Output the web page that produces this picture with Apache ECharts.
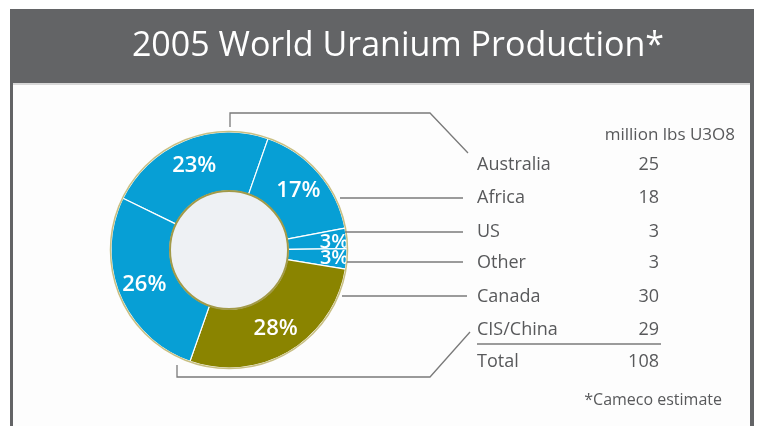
<!DOCTYPE html>
<html>
<head>
<meta charset="utf-8">
<script src="https://cdn.jsdelivr.net/npm/echarts@6/dist/echarts.min.js"></script>
<style>
  html, body { margin: 0; padding: 0; background: #fff; }
  #chart { width: 758px; height: 426px; }
</style>
</head>
<body>
<div id="chart"></div>
<script>
// data
const regions = ['Australia', 'Africa', 'US', 'Other', 'Canada', 'CIS/China'];
const production = [25, 18, 3, 3, 30, 29];
const shareLabels = ['23%', '17%', '3%', '3%', '28%', '26%'];
const totalLabel = 'Total';
const totalValue = 108;

const blue = '#079fd5';
const olive = '#8a8400';
const sliceColors = [blue, blue, blue, blue, olive, blue];
const textGrey = '#58595b';
const lineGrey = '#7a7a7a';
const font = '"Open Sans", sans-serif';

const cx = 229, cy = 250, rIn = 59, rOut = 118;
const rowY = [165, 198, 232, 263, 297, 330];
const nameX = 477, valueX = 659;

const pieData = regions.map((name, i) => {
  const item = {
    name: name,
    value: production[i],
    itemStyle: { color: sliceColors[i] }
  };
  if (shareLabels[i] === '3%') {
    item.label = { offset: [14, 1], fontSize: 20 };
  }
  return item;
});

// table text
const tableTexts = [];
regions.forEach((name, i) => {
  tableTexts.push({
    type: 'text', z: 20,
    style: { text: name, x: nameX, y: rowY[i], fill: textGrey, font: '18px ' + font, textVerticalAlign: 'middle' }
  });
  tableTexts.push({
    type: 'text', z: 20,
    style: { text: String(production[i]), x: valueX, y: rowY[i], fill: textGrey, font: '18px ' + font, textAlign: 'right', textVerticalAlign: 'middle' }
  });
});
tableTexts.push({
  type: 'text', z: 20,
  style: { text: totalLabel, x: nameX, y: 362, fill: textGrey, font: '18px ' + font, textVerticalAlign: 'middle' }
});
tableTexts.push({
  type: 'text', z: 20,
  style: { text: String(totalValue), x: valueX, y: 362, fill: textGrey, font: '18px ' + font, textAlign: 'right', textVerticalAlign: 'middle' }
});

// leader lines from slices to the table
const leaders = [
  [[230, 127], [230, 113], [430, 113], [468, 153]],
  [[340, 198], [463, 198]],
  [[345, 232], [463, 232]],
  [[347, 262], [463, 262]],
  [[342, 296], [467, 296]],
  [[177, 365], [177, 377], [430, 377], [470, 332]]
];
const leaderEls = leaders.map(pts => ({
  type: 'polyline', z: 15, silent: true,
  shape: { points: pts },
  style: { stroke: lineGrey, lineWidth: 1.3, fill: null }
}));

const chart = echarts.init(document.getElementById('chart'));
chart.setOption({
  backgroundColor: '#ffffff',
  animation: false,
  graphic: [
    // frame
    { type: 'rect', z: 0, shape: { x: 10, y: 9, width: 744, height: 420 }, style: { fill: '#636466' } },
    { type: 'rect', z: 1, shape: { x: 13, y: 83, width: 737, height: 345 }, style: { fill: '#fdfdfd' } },
    { type: 'rect', z: 1, shape: { x: 13, y: 83, width: 737, height: 2 }, style: { fill: '#d8d8d8' } },
    {
      type: 'text', z: 5,
      style: {
        text: '2005 World Uranium Production*', x: 398, y: 46,
        fill: '#ffffff', font: '34px ' + font, textAlign: 'center', textVerticalAlign: 'middle'
      }
    },
    // ring outline and hole
    {
      type: 'circle', z: 10, silent: true,
      shape: { cx: cx, cy: cy, r: rOut + 0.5 },
      style: { fill: null, stroke: '#c8bf83', lineWidth: 1.5 }
    },
    {
      type: 'circle', z: 10, silent: true,
      shape: { cx: cx, cy: cy, r: rIn },
      style: { fill: '#eef1f4', stroke: '#a29a48', lineWidth: 2 }
    },
    {
      type: 'text', z: 20,
      style: { text: 'million lbs U3O8', x: 735, y: 135, fill: textGrey, font: '17px ' + font, textAlign: 'right', textVerticalAlign: 'middle' }
    },
    {
      type: 'line', z: 15,
      shape: { x1: nameX, y1: 344, x2: 661, y2: 344 },
      style: { stroke: lineGrey, lineWidth: 1.5 }
    },
    {
      type: 'text', z: 20,
      style: { text: '*Cameco estimate', x: 722, y: 400, fill: textGrey, font: '16px ' + font, textAlign: 'right', textVerticalAlign: 'middle' }
    }
  ].concat(leaderEls, tableTexts),
  series: [
    {
      type: 'pie',
      z: 5,
      center: [cx, cy],
      radius: [rIn, rOut],
      startAngle: 154,
      clockwise: true,
      avoidLabelOverlap: false,
      silent: true,
      itemStyle: { borderColor: '#ffffff', borderWidth: 1.2 },
      label: {
        show: true,
        position: 'inside',
        color: '#ffffff',
        fontFamily: 'Open Sans',
        fontSize: 22,
        fontWeight: 600,
        formatter: p => shareLabels[p.dataIndex]
      },
      labelLayout: { hideOverlap: false },
      labelLine: { show: false },
      data: pieData
    }
  ]
});
</script>
</body>
</html>
